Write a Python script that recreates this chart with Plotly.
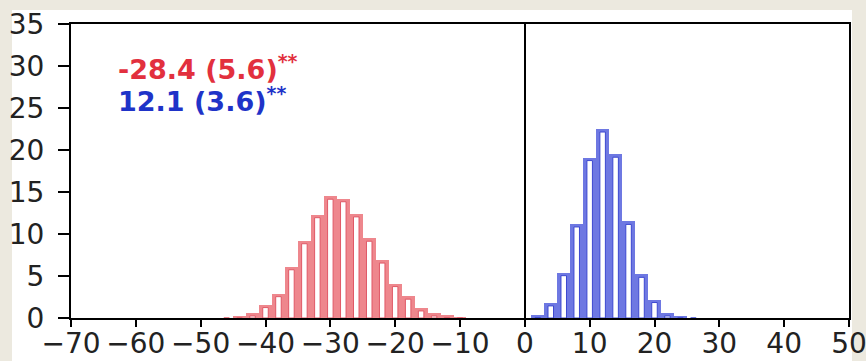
import plotly.graph_objects as go

# Red distribution (bin centers, bin counts)
red_centers = [-46, -44, -42, -40, -38, -36, -34, -32, -30, -28, -26, -24, -22, -20, -18, -16, -14, -12, -10]
red_values = [0.05, 0.2, 0.6, 1.6, 2.9, 6.1, 9.2, 12.3, 14.5, 14.2, 12.4, 9.5, 6.9, 4.1, 2.6, 1.2, 0.6, 0.4, 0.1]

# Blue distribution
blue_centers = [2, 4, 6, 8, 10, 12, 14, 16, 18, 20, 22, 24, 26]
blue_values = [0.4, 1.8, 5.4, 11.2, 19.1, 22.5, 19.5, 11.5, 5.2, 2.2, 0.6, 0.2, 0.05]

x_ticks = [-70, -60, -50, -40, -30, -20, -10, 0, 10, 20, 30, 40, 50]
y_ticks = [0, 5, 10, 15, 20, 25, 30, 35]

red_label = "-28.4 (5.6)<sup>**</sup>"
blue_label = "12.1 (3.6)<sup>**</sup>"

BIN = 2.0
INNER = 0.85
TOP_EDGE = 0.36

red_fill, red_edge = "#EE878D", "#E05866"
blue_fill, blue_edge = "#6E78E2", "#3C48D0"

fig = go.Figure()

def add_hist(centers, values, fill, edge):
    fig.add_trace(go.Bar(x=centers, y=values, width=BIN,
                         marker=dict(color=fill, line=dict(width=0)),
                         hoverinfo="skip", showlegend=False))
    inner = [max(v - TOP_EDGE, 0) for v in values]
    fig.add_trace(go.Bar(x=centers, y=inner, width=INNER,
                         marker=dict(color="white", line=dict(color=edge, width=1)),
                         hoverinfo="skip", showlegend=False))

add_hist(red_centers, red_values, red_fill, red_edge)
add_hist(blue_centers, blue_values, blue_fill, blue_edge)

W, H = 866, 361
L, R, T, B = 71, 17, 24, 43
pw, ph = W - L - R, H - T - B

# white sheet behind the chart, beige photo border around it
fig.add_shape(type="rect", xref="paper", yref="paper", layer="below",
              x0=(12 - L) / pw, x1=(852 - L) / pw,
              y0=-(B + 5) / ph, y1=(ph + T - 10) / ph,
              fillcolor="white", line=dict(width=0))

fig.add_annotation(xref="paper", yref="paper", x=(116 - L) / pw, y=(318 - 67) / ph,
                   xanchor="left", yanchor="middle", showarrow=False, text=red_label,
                   font=dict(family="DejaVu Sans", size=27, color="#E2303E", weight="bold"))
fig.add_annotation(xref="paper", yref="paper", x=(116 - L) / pw, y=(318 - 100) / ph,
                   xanchor="left", yanchor="middle", showarrow=False, text=blue_label,
                   font=dict(family="DejaVu Sans", size=27, color="#1F33C8", weight="bold"))

axis_font = dict(family="DejaVu Sans", size=28, color="#222222")

fig.update_xaxes(range=[-70, 50], tickvals=x_ticks, ticks="outside", ticklen=7, tickwidth=2,
                 tickcolor="black", showline=True, linecolor="black", linewidth=2, mirror=True,
                 showgrid=False, zeroline=True, zerolinecolor="black", zerolinewidth=2,
                 tickfont=axis_font, fixedrange=True, automargin=False,
                 ticklabelstandoff=-8, ticklabeloverflow="allow")
fig.update_yaxes(range=[0, 35], tickvals=y_ticks, ticks="outside", ticklen=11, tickwidth=2,
                 tickcolor="black", showline=True, linecolor="black", linewidth=2, mirror=True,
                 showgrid=False, zeroline=False, tickfont=axis_font, fixedrange=True,
                 automargin=False, ticklabelstandoff=8, ticklabeloverflow="allow")

fig.update_layout(width=W, height=H, margin=dict(l=L, r=R, t=T, b=B),
                  paper_bgcolor="#ECE9DF", plot_bgcolor="white",
                  barmode="overlay", bargap=0, showlegend=False)

fig.write_html("out.html", config={"displayModeBar": False, "staticPlot": True},
               post_script="document.body.style.margin='0';document.body.style.overflow='hidden';")
